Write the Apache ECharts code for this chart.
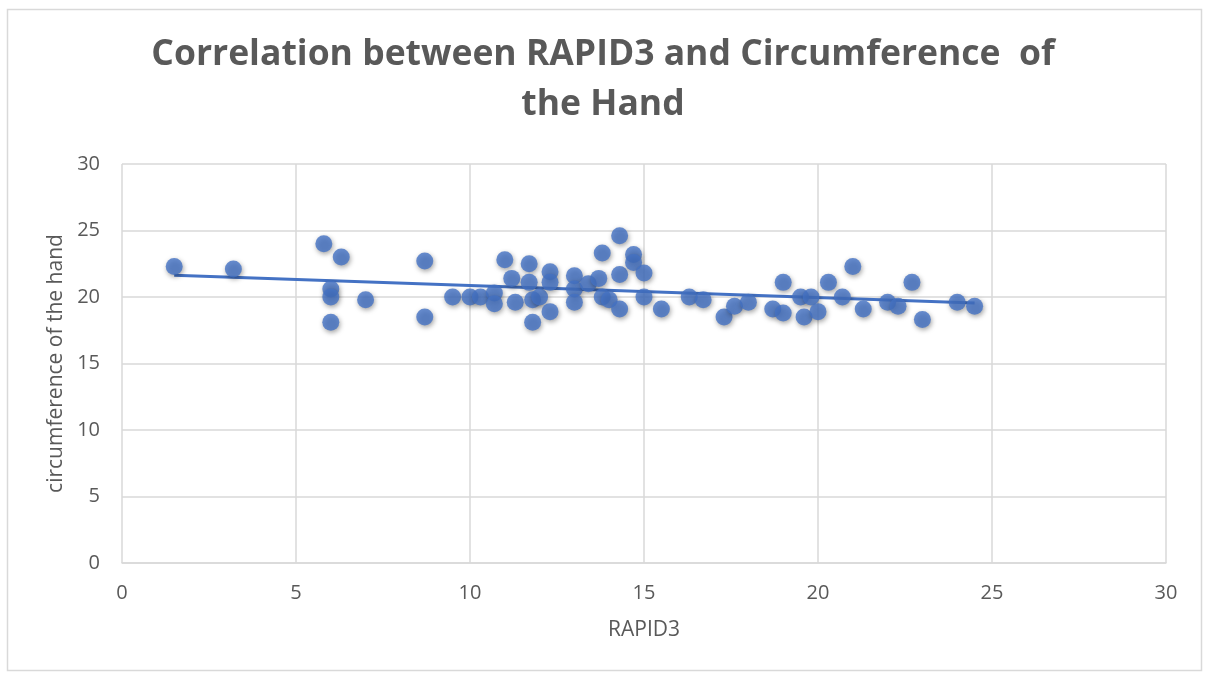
<!DOCTYPE html>
<html>
<head>
<meta charset="utf-8">
<title>Correlation between RAPID3 and Circumference of the Hand</title>
<script src="https://cdn.jsdelivr.net/npm/echarts@6/dist/echarts.min.js"></script>
<style>
  html, body { margin: 0; padding: 0; background: #fff; }
  #chart { width: 1206px; height: 673px; }
</style>
</head>
<body>
<div id="chart"></div>
<script>
// RAPID3 score (x) and circumference of the hand (y)
const rapid3 = [
  1.5, 3.2, 5.8, 6.3, 6, 6, 6, 7, 8.7, 8.7,
  9.5, 10, 10.3, 10.7, 10.7, 11, 11.2, 11.3, 11.7, 11.7,
  11.8, 12, 11.8, 12.3, 12.3, 12.3, 13, 13, 13, 13.4,
  13.7, 13.8, 13.8, 14, 14.3, 14.3, 14.3, 14.7, 14.7, 15,
  15, 15.5, 16.3, 16.7, 17.3, 17.6, 18, 18.7, 19, 19,
  19.5, 19.8, 19.6, 20, 20.3, 20.7, 21, 21.3, 22, 22.3,
  22.7, 23, 24, 24.5
]
const handCircumference = [
  22.3, 22.1, 24, 23, 20.6, 20, 18.1, 19.8, 22.7, 18.5,
  20, 20, 20, 20.3, 19.5, 22.8, 21.4, 19.6, 22.5, 21.1,
  19.8, 20, 18.1, 21.9, 21.1, 18.9, 21.6, 20.6, 19.6, 21,
  21.4, 23.3, 20, 19.8, 24.6, 21.7, 19.1, 23.2, 22.6, 21.8,
  20, 19.1, 20, 19.8, 18.5, 19.3, 19.6, 19.1, 21.1, 18.8,
  20, 20, 18.5, 18.9, 21.1, 20, 22.3, 19.1, 19.6, 19.3,
  21.1, 18.3, 19.6, 19.3
]
const xTicks = [0, 5, 10, 15, 20, 25, 30]
const yTicks = [0, 5, 10, 15, 20, 25, 30]

const points = rapid3.map((x, i) => [x, handCircumference[i]])

// 线性趋势线 (least squares)
const n = points.length
const mx = rapid3.reduce((a, b) => a + b, 0) / n
const my = handCircumference.reduce((a, b) => a + b, 0) / n
let sxy = 0, sxx = 0
points.forEach(([x, y]) => { sxy += (x - mx) * (y - my); sxx += (x - mx) * (x - mx) })
const slope = sxy / sxx
const intercept = my - slope * mx
const xMinData = Math.min(...rapid3)
const xMaxData = Math.max(...rapid3)
const trend = [[xMinData, intercept + slope * xMinData], [xMaxData, intercept + slope * xMaxData]]

const chart = echarts.init(document.getElementById('chart'))
const gray = '#595959'
const gridColor = '#d9d9d9'
const option = {
  animation: false,
  backgroundColor: '#fff',
  title: {
    text: 'Correlation between RAPID3 and Circumference  of\nthe Hand',
    left: 'center',
    top: 25,
    textStyle: {
      color: gray,
      fontFamily: 'Open Sans',
      fontWeight: 'bold',
      fontSize: 35.5,
      lineHeight: 50
    }
  },
  graphic: [{
    type: 'rect',
    left: 5,
    top: 7,
    shape: { width: 1194, height: 661 },
    style: { fill: 'none', stroke: gridColor, lineWidth: 1.5 },
    silent: true
  }],
  grid: { left: 122, right: 40, top: 164, bottom: 110 },
  xAxis: {
    type: 'value',
    min: xTicks[0],
    max: xTicks[xTicks.length - 1],
    interval: 5,
    name: 'RAPID3',
    nameLocation: 'middle',
    nameGap: 57,
    nameTextStyle: { color: gray, fontSize: 21, fontFamily: 'Open Sans' },
    axisLine: { show: true, lineStyle: { color: gridColor, width: 1.5 } },
    axisTick: { show: false },
    axisLabel: { color: gray, fontSize: 20, fontFamily: 'Open Sans', margin: 20 },
    splitLine: { show: true, lineStyle: { color: gridColor, width: 1.5 } }
  },
  yAxis: {
    type: 'value',
    min: yTicks[0],
    max: yTicks[yTicks.length - 1],
    interval: 5,
    name: 'circumference of the hand',
    nameLocation: 'middle',
    nameGap: 54,
    nameTextStyle: { color: gray, fontSize: 21, fontFamily: 'Open Sans' },
    axisLine: { show: false },
    axisTick: { show: false },
    axisLabel: { color: gray, fontSize: 20, fontFamily: 'Open Sans', margin: 22 },
    splitLine: { show: true, lineStyle: { color: gridColor, width: 1.5 } }
  },
  series: [
    {
      type: 'line',
      data: trend,
      symbol: 'none',
      lineStyle: { color: '#4472C4', width: 3 },
      z: 1,
      silent: true
    },
    {
      type: 'scatter',
      data: points,
      symbolSize: 17,
      itemStyle: {
        color: '#4472C4',
        shadowBlur: 5,
        shadowColor: 'rgba(0,0,0,0.45)',
        shadowOffsetX: 1,
        shadowOffsetY: 2
      },
      z: 2
    }
  ]
}
chart.setOption(option)
</script>
</body>
</html>
